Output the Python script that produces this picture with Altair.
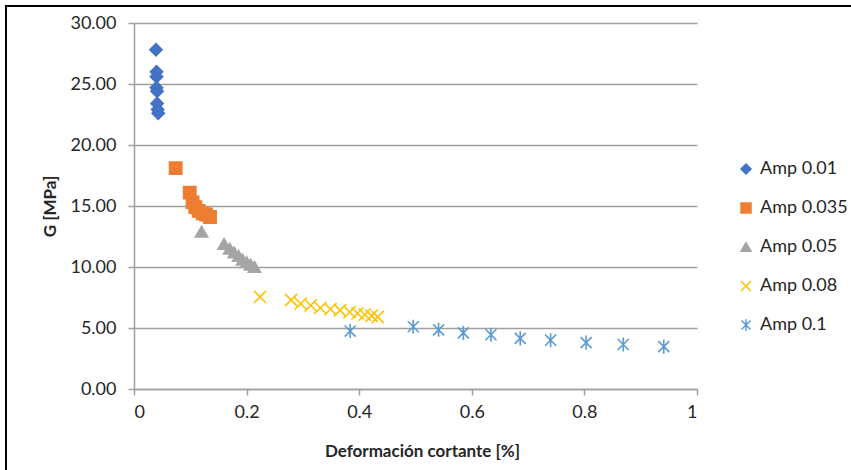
import altair as alt
import pandas as pd

series_names = ["Amp 0.01", "Amp 0.035", "Amp 0.05", "Amp 0.08", "Amp 0.1"]

amp001_x = [0.039, 0.040, 0.040, 0.040, 0.041, 0.041, 0.042, 0.043]
amp001_y = [27.8, 26.0, 25.6, 24.7, 24.4, 23.4, 22.9, 22.6]

amp0035_x = [0.074, 0.099, 0.104, 0.109, 0.115, 0.122, 0.128, 0.135]
amp0035_y = [18.1, 16.1, 15.3, 14.9, 14.6, 14.4, 14.3, 14.1]

amp005_x = [0.120, 0.160, 0.170, 0.178, 0.186, 0.193, 0.200, 0.207, 0.214]
amp005_y = [12.9, 11.9, 11.5, 11.2, 10.9, 10.6, 10.4, 10.2, 10.0]

amp008_x = [0.224, 0.279, 0.296, 0.314, 0.331, 0.349, 0.366, 0.383, 0.397, 0.410, 0.422, 0.433]
amp008_y = [7.55, 7.3, 7.0, 6.85, 6.65, 6.55, 6.45, 6.3, 6.2, 6.1, 6.0, 5.9]

amp01_x = [0.384, 0.496, 0.541, 0.585, 0.634, 0.686, 0.740, 0.803, 0.869, 0.941]
amp01_y = [4.75, 5.1, 4.85, 4.6, 4.45, 4.15, 4.0, 3.8, 3.65, 3.47]

all_x = [amp001_x, amp0035_x, amp005_x, amp008_x, amp01_x]
all_y = [amp001_y, amp0035_y, amp005_y, amp008_y, amp01_y]

rows = []
for name, xs, ys in zip(series_names, all_x, all_y):
    for xv, yv in zip(xs, ys):
        rows.append({"serie": name, "x": xv, "y": yv})
df = pd.DataFrame(rows)

stroke_colors = ["#4472C4", "#ED7D31", "#A5A5A5", "#FFC000", "#5B9BD5"]
fill_colors = ["#4472C4", "#ED7D31", "#A5A5A5", "transparent", "transparent"]
shapes = [
    "diamond",
    "square",
    "triangle-up",
    "M-1,-1L1,1M-1,1L1,-1",
    "M0,-1.15L0,1.15M-0.9,-0.9L0.9,0.9M-0.9,0.9L0.9,-0.9",
]

FONT = "Lato"

points = alt.Chart(df).mark_point(size=150, strokeWidth=1.6, opacity=1).encode(
    x=alt.X("x:Q", scale=alt.Scale(domain=[0, 1], nice=False),
            axis=alt.Axis(title="Deformación cortante [%]", values=[0, 0.2, 0.4, 0.6, 0.8, 1],
                          format="~g", grid=False, tickSize=6, labelPadding=8,
                          titlePadding=22, titleX=288)),
    y=alt.Y("y:Q", scale=alt.Scale(domain=[0, 30], nice=False),
            axis=alt.Axis(title="G [MPa]", values=[0, 5, 10, 15, 20, 25, 30], format=".2f",
                          grid=True, tickSize=6, labelPadding=12, titlePadding=10)),
    fill=alt.Fill("serie:N", scale=alt.Scale(domain=series_names, range=fill_colors), title=None),
    stroke=alt.Stroke("serie:N", scale=alt.Scale(domain=series_names, range=stroke_colors), title=None),
    shape=alt.Shape("serie:N", scale=alt.Scale(domain=series_names, range=shapes), title=None),
    order=alt.Order("serie:N"),
)

frame_df = pd.DataFrame({"k": [0]})
frame = alt.Chart(frame_df).mark_rect(fill="transparent", stroke="black", strokeWidth=2).encode(
    x=alt.value(-128), x2=alt.value(900), y=alt.value(-17), y2=alt.value(600)
)

chart = alt.layer(frame, points).properties(
    width=563, height=366,
    autosize=alt.AutoSizeParams(type="none"),
    padding={"left": 134, "top": 23, "right": 154, "bottom": 81},
    background="white",
).configure_view(stroke=None).configure_axis(
    labelFont=FONT, labelFontSize=18, labelColor="#262626",
    titleFont=FONT, titleFontSize=17, titleFontWeight="bold", titleColor="#262626",
    domainColor="#A0A0A0", domainWidth=1.5, tickColor="#A0A0A0", tickWidth=1.5,
    gridColor="#A0A0A0", gridWidth=1.5,
).configure_legend(
    orient="none", legendX=603, legendY=137, padding=0,
    labelFont=FONT, labelFontSize=18, labelColor="#262626",
    symbolSize=100, symbolStrokeWidth=1.5, rowPadding=21, labelOffset=5,
)

chart.save("out.html", embed_options={"renderer": "svg", "actions": False})
